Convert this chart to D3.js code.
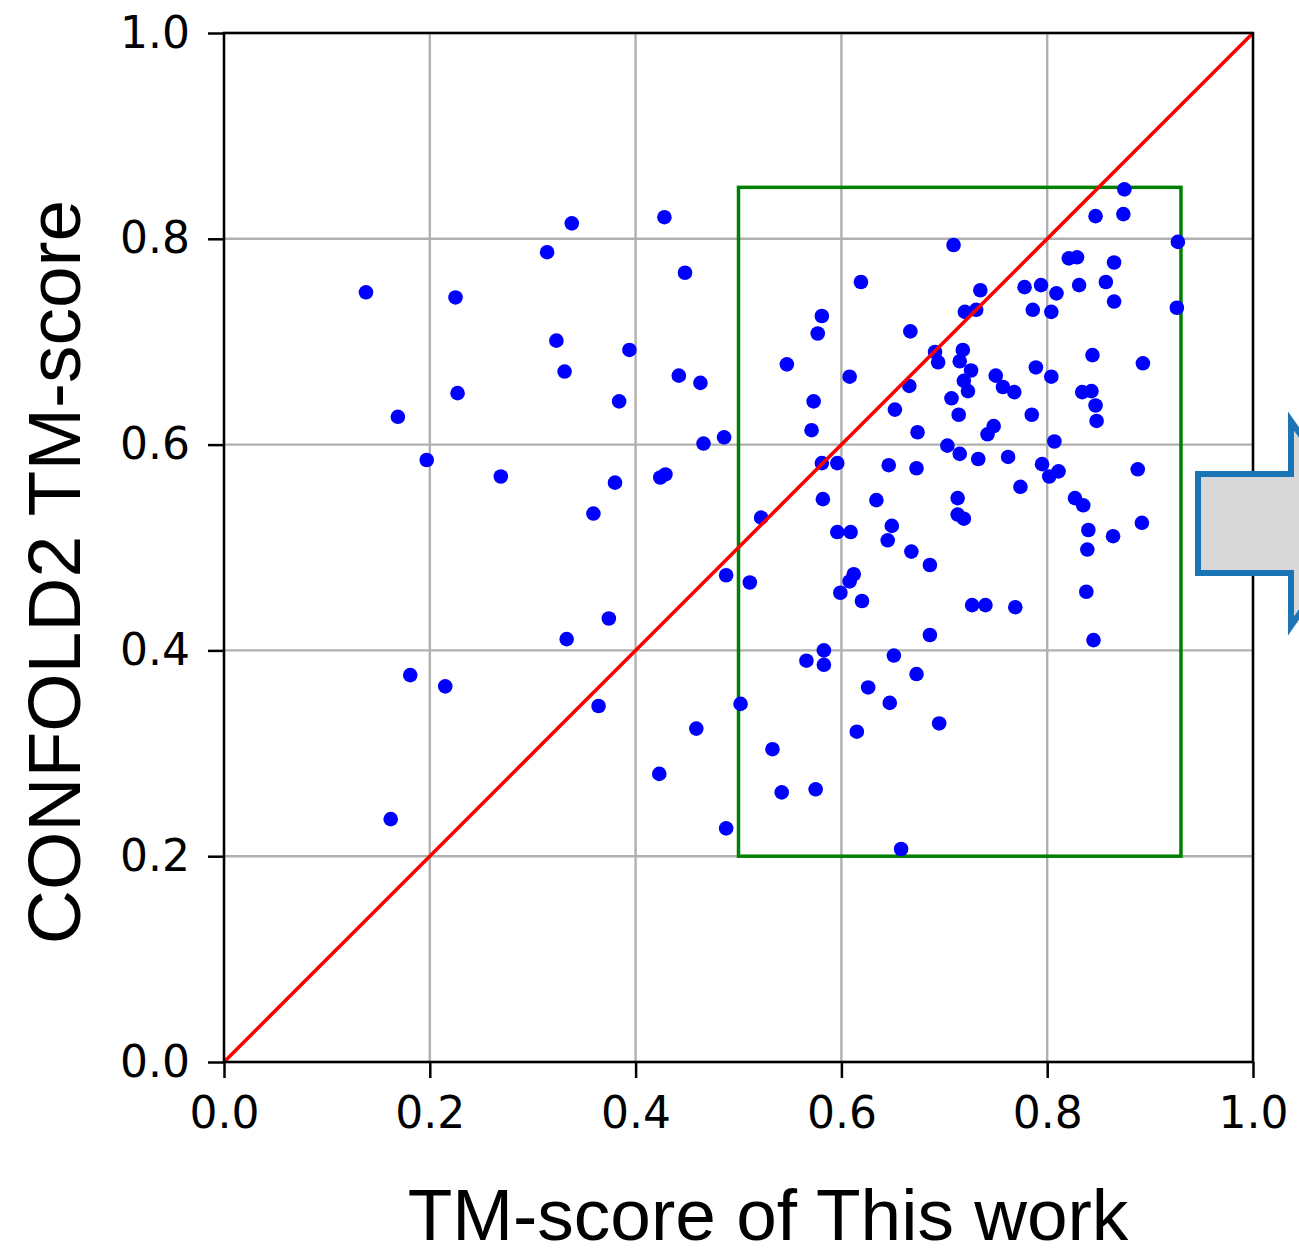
<!DOCTYPE html>
<html>
<head>
<meta charset="utf-8">
<script src="https://cdn.jsdelivr.net/npm/d3@7"></script>
<style>
  html, body { margin: 0; padding: 0; background: #ffffff; }
  svg { display: block; }
</style>
</head>
<body>
<div id="chart"></div>
<script>
// TM-score of each target: this work (x) versus CONFOLD2 (y)
const thisWork = [
  0.138,0.169,0.197,0.225,0.227,0.181,0.215,0.162,0.269,0.314,0.338,0.323,0.331,0.359,0.333,0.364,
  0.374,0.380,0.384,0.394,0.428,0.448,0.442,0.463,0.424,0.429,0.466,0.486,0.488,0.423,0.459,0.488,
  0.502,0.511,0.522,0.533,0.542,0.575,0.547,0.566,0.583,0.583,0.571,0.573,0.577,0.581,0.581,0.596,
  0.582,0.596,0.609,0.599,0.608,0.612,0.620,0.608,0.619,0.615,0.626,0.634,0.647,0.646,0.645,0.649,
  0.651,0.652,0.658,0.666,0.667,0.668,0.673,0.674,0.673,0.686,0.686,0.691,0.694,0.695,0.703,0.707,
  0.709,0.713,0.713,0.719,0.714,0.715,0.715,0.718,0.719,0.720,0.723,0.726,0.727,0.731,0.733,0.735,
  0.740,0.742,0.748,0.750,0.757,0.762,0.768,0.769,0.774,
  0.778,0.794,0.786,0.804,0.809,0.821,0.829,0.831,0.847,0.874,0.875,0.857,0.865,0.865,0.927,0.926,
  0.789,0.804,0.834,0.843,0.844,0.847,0.848,0.893,0.785,0.807,0.795,0.802,0.811,0.888,0.827,0.835,
  0.892,0.840,0.864,0.839,0.838,0.845
];
const confold2 = [
  0.748,0.627,0.585,0.743,0.650,0.376,0.365,0.236,0.569,0.787,0.815,0.701,0.671,0.533,0.411,0.346,
  0.431,0.563,0.642,0.692,0.821,0.767,0.667,0.660,0.568,0.571,0.601,0.607,0.473,0.280,0.324,0.227,
  0.348,0.466,0.529,0.304,0.262,0.265,0.678,0.390,0.400,0.386,0.614,0.642,0.708,0.725,0.582,0.582,
  0.547,0.515,0.515,0.456,0.467,0.474,0.448,0.666,0.758,0.321,0.364,0.546,0.349,0.580,0.507,0.521,
  0.395,0.634,0.207,0.657,0.710,0.496,0.577,0.612,0.377,0.483,0.415,0.690,0.680,0.329,0.599,0.645,
  0.794,0.548,0.532,0.528,0.629,0.591,0.681,0.692,0.662,0.729,0.652,0.672,0.444,0.731,0.586,0.750,
  0.444,0.610,0.618,0.667,0.656,0.588,0.651,0.442,0.559,
  0.753,0.755,0.731,0.729,0.747,0.781,0.782,0.755,0.822,0.824,0.848,0.758,0.777,0.739,0.797,0.733,
  0.675,0.666,0.651,0.652,0.687,0.638,0.623,0.679,0.629,0.603,0.581,0.569,0.574,0.576,0.548,0.541,
  0.524,0.517,0.511,0.498,0.457,0.410
];

// Axis ticks
const xTicks = [0.0, 0.2, 0.4, 0.6, 0.8, 1.0];
const yTicks = [0.0, 0.2, 0.4, 0.6, 0.8, 1.0];

// Highlighted region (this work range x CONFOLD2 range)
const regionX = [0.5, 0.93];
const regionY = [0.2, 0.85];

// Diagonal y = x reference
const diagonal = [0, 1];

const xLabel = "TM-score of This work";
const yLabel = "CONFOLD2 TM-score";

const W = 1299, H = 1255;
const plot = { left: 224, right: 1253, top: 33, bottom: 1062 };

const svg = d3.select("#chart").append("svg")
  .attr("width", W).attr("height", H)
  .attr("viewBox", `0 0 ${W} ${H}`);

const x = d3.scaleLinear().domain([0, 1]).range([plot.left, plot.right]);
const y = d3.scaleLinear().domain([0, 1]).range([plot.bottom, plot.top]);

const tickFont = "'DejaVu Sans', sans-serif";
const labelFont = "'Liberation Sans', Arial, sans-serif";

// Grid
const grid = svg.append("g").attr("stroke", "#b0b0b0").attr("stroke-width", 2.4);
grid.selectAll("line.gx").data(xTicks).join("line")
  .attr("x1", d => x(d)).attr("x2", d => x(d))
  .attr("y1", plot.top).attr("y2", plot.bottom);
grid.selectAll("line.gy").data(yTicks).join("line")
  .attr("y1", d => y(d)).attr("y2", d => y(d))
  .attr("x1", plot.left).attr("x2", plot.right);

// Region box
svg.append("rect")
  .attr("x", x(regionX[0])).attr("y", y(regionY[1]))
  .attr("width", x(regionX[1]) - x(regionX[0]))
  .attr("height", y(regionY[0]) - y(regionY[1]))
  .attr("fill", "none").attr("stroke", "#008000").attr("stroke-width", 3.5);

// Points
svg.append("g").selectAll("circle")
  .data(thisWork.map((v, i) => [v, confold2[i]]))
  .join("circle")
  .attr("cx", d => x(d[0])).attr("cy", d => y(d[1]))
  .attr("r", 7.3).attr("fill", "#0000ff");

// Diagonal
svg.append("line")
  .attr("x1", x(diagonal[0])).attr("y1", y(diagonal[0]))
  .attr("x2", x(diagonal[1])).attr("y2", y(diagonal[1]))
  .attr("stroke", "#ff0000").attr("stroke-width", 3.6);

// Axes
const fmt = d3.format(".1f");
const xAxis = svg.append("g")
  .attr("transform", `translate(0,${plot.bottom})`)
  .call(d3.axisBottom(x).tickValues(xTicks).tickFormat(fmt).tickSize(16).tickSizeOuter(0).tickPadding(19));
const yAxis = svg.append("g")
  .attr("transform", `translate(${plot.left},0)`)
  .call(d3.axisLeft(y).tickValues(yTicks).tickFormat(fmt).tickSize(16).tickSizeOuter(0).tickPadding(18));
[xAxis, yAxis].forEach(g => {
  g.select(".domain").remove();
  g.selectAll(".tick line").attr("stroke", "#000").attr("stroke-width", 2.5);
  g.selectAll(".tick text")
    .attr("fill", "#000")
    .style("font-family", tickFont)
    .style("font-size", "44px");
});

// Spines
svg.append("rect")
  .attr("x", plot.left).attr("y", plot.top)
  .attr("width", plot.right - plot.left).attr("height", plot.bottom - plot.top)
  .attr("fill", "none").attr("stroke", "#000").attr("stroke-width", 2.5);

// Axis titles
svg.append("text")
  .attr("x", 768).attr("y", 1240)
  .attr("text-anchor", "middle")
  .style("font-family", labelFont).style("font-size", "73px")
  .attr("fill", "#000")
  .text(xLabel);

svg.append("text")
  .attr("transform", `translate(80,572) rotate(-90)`)
  .attr("text-anchor", "middle")
  .style("font-family", labelFont).style("font-size", "75px")
  .attr("fill", "#000")
  .text(yLabel);

// Block arrow pointing right, beyond the plot
const ax0 = plot.right - 55, axNeck = plot.right + 38;
const bodyTop = 474, bodyBot = 573, headTop = 421, headBot = 626;
const tipX = axNeck + 71, tipY = (headTop + headBot) / 2;
svg.append("path")
  .attr("d", d3.line()([
    [ax0, bodyTop], [axNeck, bodyTop], [axNeck, headTop], [tipX, tipY],
    [axNeck, headBot], [axNeck, bodyBot], [ax0, bodyBot]
  ]) + "Z")
  .attr("fill", "#d9d9d9")
  .attr("stroke", "#1a74b6")
  .attr("stroke-width", 6)
  .attr("stroke-linejoin", "miter");
</script>
</body>
</html>
